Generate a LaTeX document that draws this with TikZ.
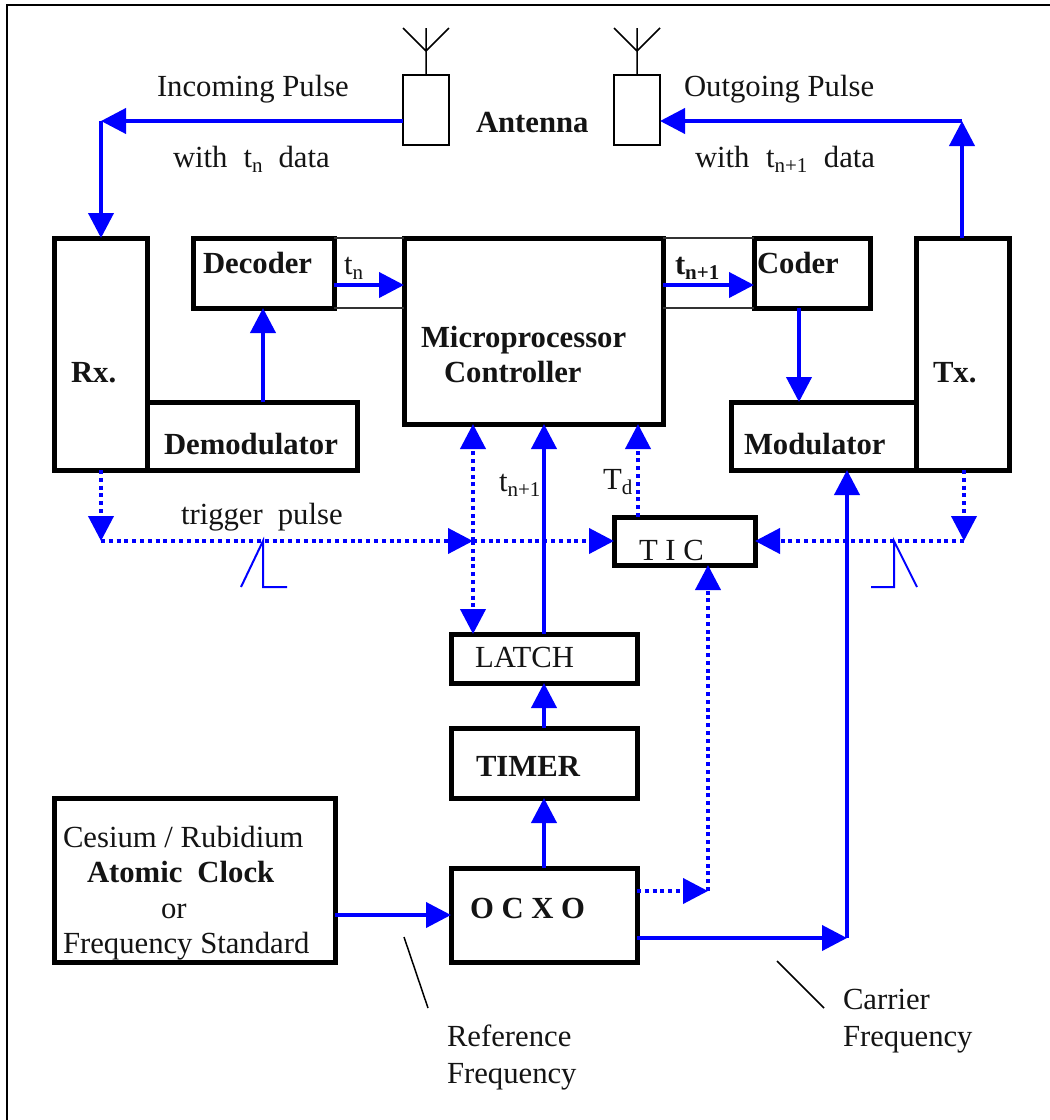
\documentclass[tikz,border=0pt]{standalone}
\usepackage{fontspec}
\setmainfont{Liberation Serif}
\usetikzlibrary{arrows.meta}
\newcommand\lowsub[1]{\raisebox{-5pt}{\fontsize{21}{21}\selectfont #1}}
\newcommand\boxat[6][]{%
  \pgfmathsetmacro\bxw{#5-#3}\pgfmathsetmacro\byh{#6-#4}%
  \pgfmathsetmacro\bcx{(#3+#5)/2}\pgfmathsetmacro\bcy{(#4+#6)/2}%
  \node[blockbox,#1,minimum width=\bxw pt,minimum height=\byh pt] (#2) at (\bcx,\bcy) {};}
\tikzset{
  blockbox/.style={draw=black,line width=5pt,inner sep=0pt,outer sep=0pt,fill=white,rectangle},
  antbox/.style={line width=1.6pt},
  sig/.style={draw=sigblue,line width=4pt},
  sigtip/.style={-{Triangle[length=25pt,width=25pt]}},
  dots/.style={dash pattern=on 4pt off 3.8pt},
  thinline/.style={draw=black!80,line width=1.5pt},
  pulse/.style={draw=sigblue,line width=2pt},
  leader/.style={draw=black,line width=1.5pt},
  framel/.style={draw=black,line width=1.6pt},
  lab/.style={anchor=base west,inner sep=0pt,outer sep=0pt,yshift=-1pt,font=\fontsize{30.7}{30.7}\selectfont,text=black!92},
  blab/.style={lab,font=\fontsize{30.7}{30.7}\selectfont\bfseries},
}
\definecolor{sigblue}{RGB}{0,0,255}
\begin{document}
\begin{tikzpicture}[x=1pt,y=-1pt]
\useasboundingbox (0,0) rectangle (1050,1120);
\fill[white] (0,0) rectangle (1050,1120);
\coordinate (frameTR) at (1050,5);\coordinate (frameTL) at (7,5);\coordinate (frameBL) at (7,1120);
\draw[framel] (frameTR) -- (frameTL) -- (frameBL);
% blocks
\boxat{micro}{404}{238}{663}{424}
\boxat{rx}{54}{238}{147}{470}
\boxat{tx}{916}{238}{1009}{470}
\boxat{decoder}{193}{238}{334}{308}
\boxat{coder}{754}{238}{870}{308}
\boxat{demod}{147}{402}{357}{470}
\boxat{mod}{731}{402}{916}{470}
\boxat{tic}{614}{517}{755}{565}
\boxat{latch}{451}{634}{637}{683}
\boxat{timer}{451}{728}{637}{798}
\boxat{ocxo}{451}{868}{637}{962}
\boxat{clock}{54}{798}{335}{962}
\boxat[antbox]{antL}{403}{75}{449}{145}
\boxat[antbox]{antR}{614}{75}{660}{145}
\draw[thinline] (decoder.north east) -- (micro.north west);
\draw[thinline] (decoder.south east) -- (micro.west |- decoder.south);
\draw[thinline] (micro.north east) -- (coder.north west);
\draw[thinline] (micro.east |- coder.south) -- (coder.south west);
% antennas
\coordinate (forkL) at (426,51);\coordinate (forkR) at (637,51);
\coordinate (tipLa) at (403,28);\coordinate (tipLb) at (426,28);\coordinate (tipLc) at (449,28);
\coordinate (tipRa) at (614,28);\coordinate (tipRb) at (637,28);\coordinate (tipRc) at (660,28);
\draw[leader] (antL.north) -- (tipLb) (tipLa) -- (forkL) -- (tipLc);
\draw[leader] (antR.north) -- (tipRb) (tipRa) -- (forkR) -- (tipRc);
% solid signals
\coordinate (inC) at (101,121);\coordinate (outC) at (962,121);
\draw[sig,sigtip] (antL.west |- inC) -- (inC);
\draw[sig,sigtip] (inC) -- (inC |- rx.north);
\draw[sig,sigtip] (outC |- tx.north) -- (outC);
\draw[sig,sigtip] (outC) -- (antR.east |- outC);
\coordinate (busY) at (0,285);
\draw[sig,sigtip] (decoder.east |- busY) -- (micro.west |- busY);
\draw[sig,sigtip] (micro.east |- busY) -- (coder.west |- busY);
\coordinate (demodX) at (263,0);\coordinate (coderX) at (799,0);
\draw[sig,sigtip] (demodX |- demod.north) -- (demodX |- decoder.south);
\draw[sig,sigtip] (coderX |- coder.south) -- (coderX |- mod.north);
\coordinate (midX) at (544,0);
\draw[sig,sigtip] (midX |- latch.north) -- (midX |- micro.south);
\draw[sig,sigtip] (timer.north) -- (latch.south);
\draw[sig,sigtip] (ocxo.north) -- (timer.south);
\coordinate (refY) at (0,915);
\draw[sig,sigtip] (clock.east |- refY) -- (ocxo.west |- refY);
\coordinate (carrC) at (847,938);
\draw[sig,sigtip] (ocxo.east |- carrC) -- (carrC);
\draw[sig,sigtip] (carrC) -- (carrC |- mod.south);
% dotted signals
\coordinate (trigL) at (101,541);\coordinate (trigR) at (964,541);\coordinate (busX) at (473,541);
\draw[sig,dots,sigtip] (trigL |- rx.south) -- (trigL);
\draw[sig,dots,sigtip] (trigR |- tx.south) -- (trigR);
\draw[sig,dots,sigtip] (trigL) -- (busX);
\draw[sig,dots,sigtip] (busX) -- (tic.west |- busX);
\draw[sig,dots,sigtip] (trigR) -- (tic.east |- trigR);
\draw[sig,dots,sigtip] (busX) -- (busX |- micro.south);
\draw[sig,dots,sigtip] (busX) -- (busX |- latch.north);
\coordinate (tdX) at (638,0);
\draw[sig,dots,sigtip] (tdX |- tic.north) -- (tdX |- micro.south);
\coordinate (ticC) at (708,891);
\draw[sig,dots,sigtip] (ocxo.east |- ticC) -- (ticC);
\draw[sig,dots,sigtip] (ticC) -- (ticC |- tic.south);
% pulse sketches
\coordinate (pL) at (263,541);\coordinate (pLa) at (241,587);\coordinate (pLb) at (263,587);\coordinate (pLc) at (287,587);
\coordinate (pR) at (894,541);\coordinate (pRa) at (917,587);\coordinate (pRb) at (894,587);\coordinate (pRc) at (871,587);
\draw[pulse] (pLa) -- (pL) -- (pLb) -- (pLc);
\draw[pulse] (pRa) -- (pR) -- (pRb) -- (pRc);
% leaders
\coordinate (l1a) at (404,937);\coordinate (l1b) at (428,1008);
\coordinate (l2a) at (777,961);\coordinate (l2b) at (824,1008);
\draw[leader] (l1a) -- (l1b);
\draw[leader] (l2a) -- (l2b);
% labels
\node[lab] (t1) at (157,95) {Incoming Pulse};
\node[lab] (t2) at (173,166) {with\hspace{16pt}t\lowsub{n}\hspace{16pt}data};
\node[blab] (t3) at (476,131) {Antenna};
\node[lab] (t4) at (684,95) {Outgoing Pulse};
\node[lab] (t5) at (695,166) {with\hspace{16.5pt}t\lowsub{n+1}\hspace{16.5pt}data};
\node[blab] (t6) at (203,272) {Decoder};
\node[lab] (t7) at (344,273) {t\lowsub{n}};
\node[blab] (t8) at (675,273) {t\lowsub{n+1}};
\node[blab] (t9) at (757,272) {Coder};
\node[blab] (t10) at (71,381) {Rx.};
\node[blab] (t11) at (933,381) {Tx.};
\node[blab] (t12) at (421,346) {Microprocessor};
\node[blab] (t13) at (444,381) {Controller};
\node[blab] (t14) at (164,453) {Demodulator};
\node[blab] (t15) at (744,453) {Modulator};
\node[lab] (t16) at (181,523) {trigger\hspace{15pt}pulse};
\node[lab] (t17) at (499,490) {t\lowsub{n+1}};
\node[lab] (t18) at (603,488) {T\lowsub{d}};
\node[lab] (t19) at (639,559) {T I C};
\node[lab] (t20) at (475,666) {LATCH};
\node[blab] (t21) at (476,775) {TIMER};
\node[blab] (t22) at (470,917) {O C X O};
\node[lab] (t23) at (63,846) {Cesium / Rubidium};
\node[blab] (t24) at (87,881) {Atomic\hspace{15pt}Clock};
\node[lab] (t25) at (161,917) {or};
\node[lab] (t26) at (63,952) {Frequency Standard};
\node[lab] (t27) at (447,1045) {Reference};
\node[lab] (t28) at (447,1082) {Frequency};
\node[lab] (t29) at (843,1008) {Carrier};
\node[lab] (t30) at (843,1045) {Frequency};
\end{tikzpicture}
\end{document}
